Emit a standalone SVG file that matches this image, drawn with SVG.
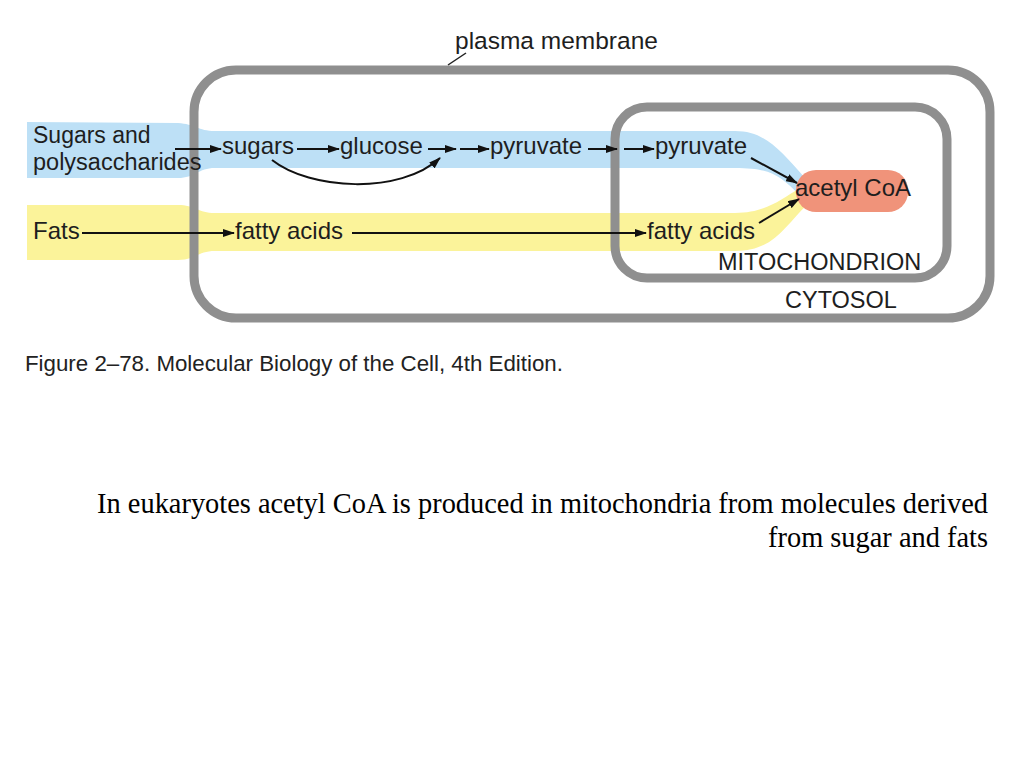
<svg xmlns="http://www.w3.org/2000/svg" width="1024" height="768" viewBox="0 0 1024 768">
<defs>
<style>
.t{font-family:"Liberation Sans",Arial,sans-serif;font-size:24px;fill:#1e1e1e}
.s{font-size:23.5px}
.mem{fill:none;stroke:#8f8f8f;stroke-width:9}
.c{fill:none;stroke:#111;stroke-width:2}
.cap{font-family:"Liberation Serif","Times New Roman",serif;font-size:28.4px;fill:#000}
</style>
<marker id="ah" markerWidth="12" markerHeight="8" refX="11" refY="4" orient="auto" markerUnits="userSpaceOnUse">
<path d="M0,0 L12,4 L0,8 Z" fill="#111"/>
</marker>
</defs>
<rect width="1024" height="768" fill="#fff"/>
<g id="bands">
<path d="M27,122 L178,123 C195,124 198,131 215,131 L735,131 C765,131 780,150 805,178 L800,196 C780,175 770,168 735,168 L215,168 C198,168 195,178 178,178 L27,178 Z" fill="#bde0f6"/>
<path d="M27,205 L178,205 C195,205 198,213 215,213 L735,213 C765,213 780,200 800,188 L808,204 C785,225 775,251 735,251 L215,251 C198,251 195,260 178,260 L27,260 Z" fill="#fbf39a"/>
</g>
<g id="cytosol">
<rect class="mem" x="194" y="70" width="796" height="248" rx="42"/>
<text class="t s" x="785" y="308">CYTOSOL</text>
</g>
<g id="mitochondrion">
<rect class="mem" x="615" y="107" width="332" height="171" rx="32"/>
<text class="t s" x="718" y="270">MITOCHONDRION</text>
</g>
<g id="plasma-membrane-label">
<text class="t" x="455" y="49" style="font-size:24.5px">plasma membrane</text>
<line x1="448" y1="65" x2="466" y2="53" stroke="#222" stroke-width="1.5"/>
</g>
<g id="acetyl-coa">
<rect x="796" y="170" width="112" height="42" rx="20" fill="#f0937a"/>
<text class="t" x="795" y="196">acetyl CoA</text>
</g>
<g id="sugars-polysaccharides"><text class="t" x="33" y="143" style="font-size:23px">Sugars and</text><text class="t" x="33" y="170" style="font-size:23.5px">polysaccharides</text></g>
<g id="sugars"><text class="t" x="222" y="154">sugars</text></g>
<g id="glucose"><text class="t" x="340" y="154">glucose</text></g>
<g id="pyruvate-cytosol"><text class="t" x="490" y="154">pyruvate</text></g>
<g id="pyruvate-mito"><text class="t" x="655" y="154">pyruvate</text></g>
<g id="fats"><text class="t" x="33" y="239">Fats</text></g>
<g id="fatty-acids-cytosol"><text class="t" x="235" y="239">fatty acids</text></g>
<g id="fatty-acids-mito"><text class="t" x="647" y="239">fatty acids</text></g>
<g id="connectors">
<line class="c" x1="175" y1="149" x2="221" y2="149" marker-end="url(#ah)"/>
<line class="c" x1="297" y1="149" x2="339" y2="149" marker-end="url(#ah)"/>
<line class="c" x1="428" y1="149" x2="456" y2="149" marker-end="url(#ah)"/>
<line class="c" x1="460" y1="149" x2="489" y2="149" marker-end="url(#ah)"/>
<line class="c" x1="588" y1="149" x2="617" y2="149" marker-end="url(#ah)"/>
<line class="c" x1="624" y1="149" x2="654" y2="149" marker-end="url(#ah)"/>
<path class="c" d="M272,160 C310,190 400,195 440,158" marker-end="url(#ah)"/>
<line class="c" x1="751" y1="158" x2="797" y2="183" marker-end="url(#ah)"/>
<line class="c" x1="82" y1="233" x2="234" y2="233" marker-end="url(#ah)"/>
<line class="c" x1="352" y1="233" x2="646" y2="233" marker-end="url(#ah)"/>
<line class="c" x1="759" y1="223" x2="799" y2="199" marker-end="url(#ah)"/>
</g>
<text x="25" y="371" font-family="Liberation Sans,Arial,sans-serif" font-size="22.3" fill="#222">Figure 2–78. Molecular Biology of the Cell, 4th Edition.</text>
<text class="cap" x="988" y="513" text-anchor="end">In eukaryotes acetyl CoA is produced in mitochondria from molecules derived</text>
<text class="cap" x="988" y="547" text-anchor="end">from sugar and fats</text>
</svg>
